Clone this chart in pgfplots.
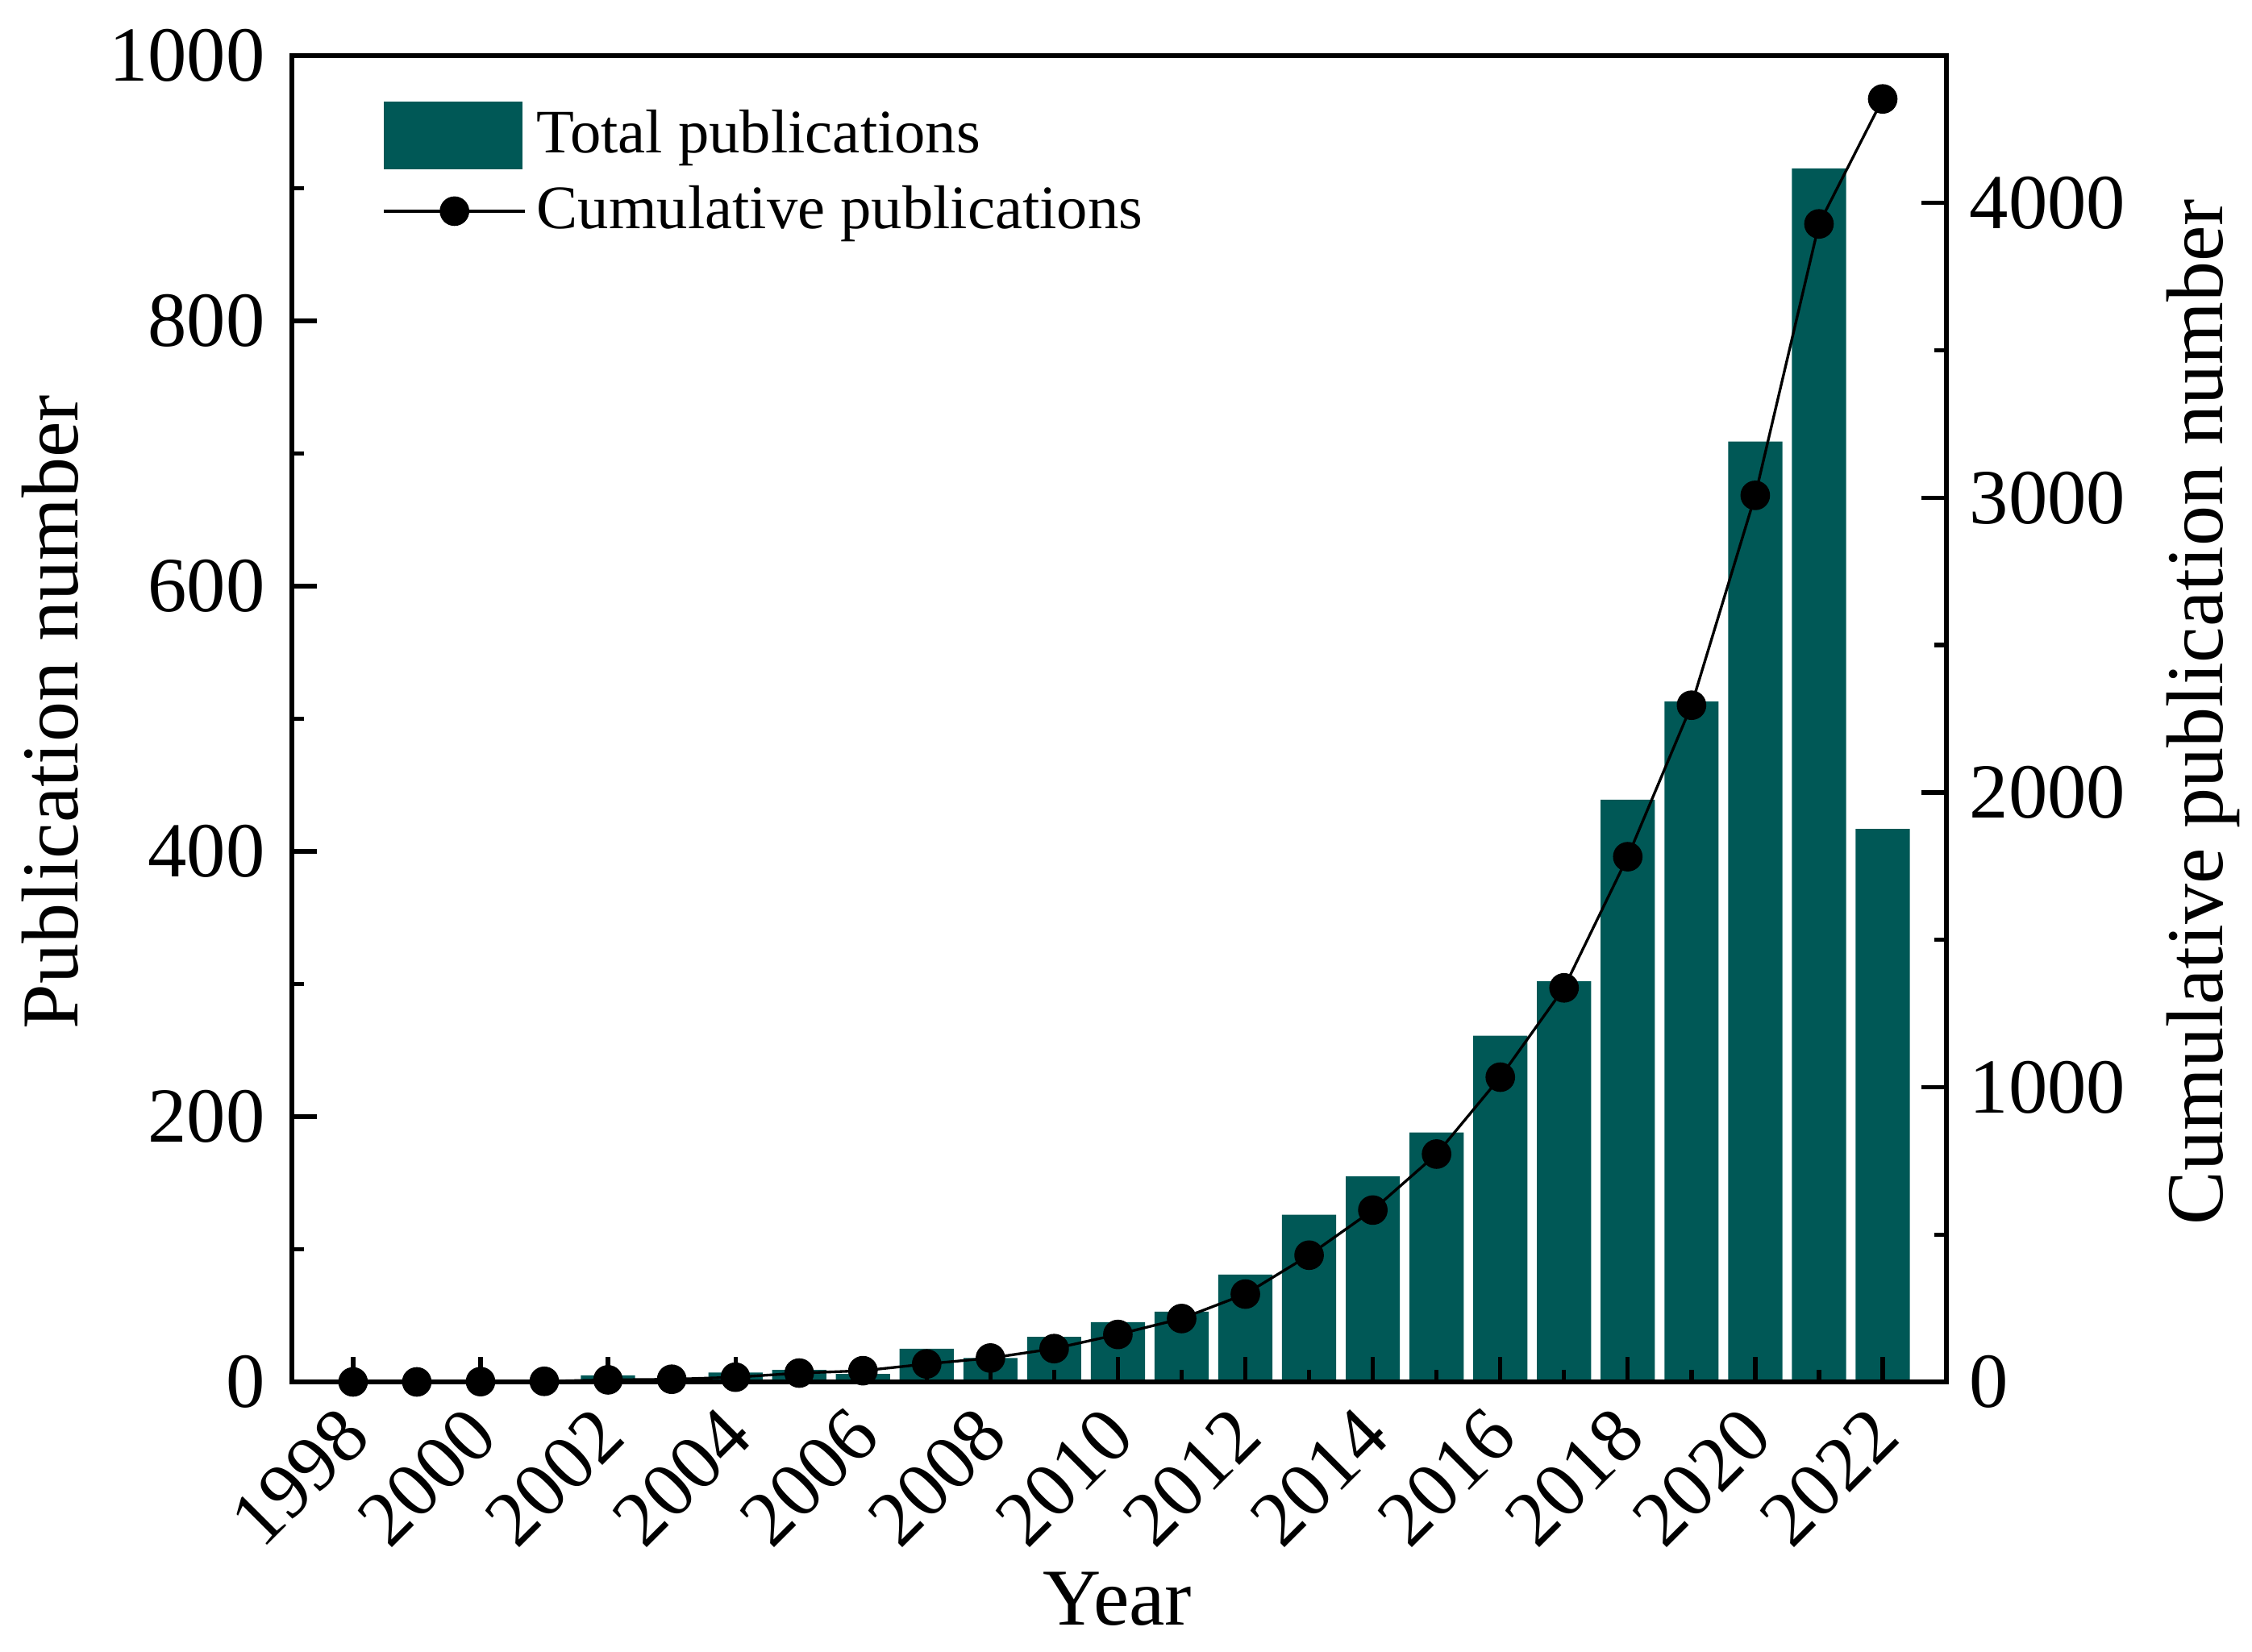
\documentclass[border=0pt]{standalone}
\usepackage{fontspec}
\setmainfont{Liberation Serif}
\usepackage{pgfplots}
\usepackage{pgfplotstable}
\pgfplotsset{compat=1.18}
\definecolor{barcol}{RGB}{0,88,86}
\pgfplotsset{/pgf/number format/assume math mode=true, /pgf/number format/1000 sep={}}

\pgfplotstableread{
year pub cum
1998 0 0
1999 0 0
2000 1 1
2001 1 2
2002 5 7
2003 2 9
2004 7 16
2005 9 30
2006 6 38
2007 25 61
2008 18 81
2009 34 113
2010 45 161
2011 53 215
2012 81 298
2013 126 430
2014 155 583
2015 188 773
2016 261 1034
2017 302 1337
2018 439 1782
2019 513 2296
2020 709 3008
2021 915 3929
2022 417 4353
}\data

\begin{document}
\begin{tikzpicture}
\begin{axis}[
  at={(0pt,0pt)}, anchor=south west,
  scale only axis, width=307.8pt, height=246.75pt,
  xmin=1997.04, xmax=2023.0, ymin=0, ymax=1000,
  axis on top, tick pos=left, tick align=inside,
  xtick={1998,2000,...,2022}, minor xtick={1999,2001,...,2021},
  ytick={0,200,...,1000}, minor ytick={100,300,...,900},
  major tick length=4.6pt, minor tick length=2.2pt,
  axis line style={line width=0.9pt},
  tick style={line width=0.8pt, black},
  tick label style={font=\fontsize{14.5}{17}\selectfont},
  xticklabel style={inner sep=0pt, xshift=0.45pt, yshift=-7.3pt, rotate=45, anchor=east},
  yticklabel style={xshift=-1.5pt},
  xlabel={Year},
  xlabel style={at={(axis description cs:0.499,-0.1635)}, anchor=center, font=\fontsize{15}{18}\selectfont},
  ylabel={Publication number},
  ylabel style={at={(axis description cs:-0.146,0.505)}, anchor=center, font=\fontsize{15}{18}\selectfont},
]
\addplot[ybar, bar width=0.85, fill=barcol, draw=none] table[x=year, y=pub] {\data};
\end{axis}
\begin{axis}[
  at={(0pt,0pt)}, anchor=south west,
  scale only axis, width=307.8pt, height=246.75pt,
  xmin=1997.04, xmax=2023.0, ymin=0, ymax=4500,
  hide x axis, axis y line*=right, tick align=inside,
  ytick={0,1000,...,4000}, minor ytick={500,1500,...,4500},
  major tick length=4.6pt, minor tick length=2.2pt,
  axis line style={line width=0.9pt},
  tick style={line width=0.8pt, black},
  tick label style={font=\fontsize{14.5}{17}\selectfont},
  yticklabel style={xshift=0.8pt},
  ylabel={Cumulative publication number},
  ylabel style={at={(axis description cs:1.155,0.505)}, anchor=center, rotate=0, font=\fontsize{15}{18}\selectfont},
  legend style={at={(axis description cs:0,1)}, anchor=north west, draw=none, fill=none,
    xshift=16.7pt, yshift=-8.3pt, inner sep=0pt, row sep=2.4pt,
    font=\fontsize{11.5}{13}\selectfont, nodes={inner sep=0.7pt}},
  legend cell align=left,
]
\addlegendimage{legend image code/.code={\fill[barcol, draw=none] (0pt,-6.3pt) rectangle (25.7pt,6.3pt); \path[draw=none, fill=none] (0pt,0pt) rectangle (27.7pt,0pt);}}
\addlegendentry{Total publications}
\addplot[black, line width=0.5pt, mark=*, mark size=2.5pt,
  legend image code/.code={\draw[black, line width=0.5pt] (0pt,0pt) -- (26.2pt,0pt); \fill[black] (13.1pt,0pt) circle (2.5pt); \path[draw=none, fill=none] (0pt,0pt) rectangle (27.7pt,0pt);}]
  table[x=year, y=cum] {\data};
\addlegendentry{Cumulative publications}
\end{axis}
\pgfresetboundingbox
\useasboundingbox (-54.3pt,-50.1pt) rectangle (364.65pt,257.1pt);
\end{tikzpicture}
\end{document}
